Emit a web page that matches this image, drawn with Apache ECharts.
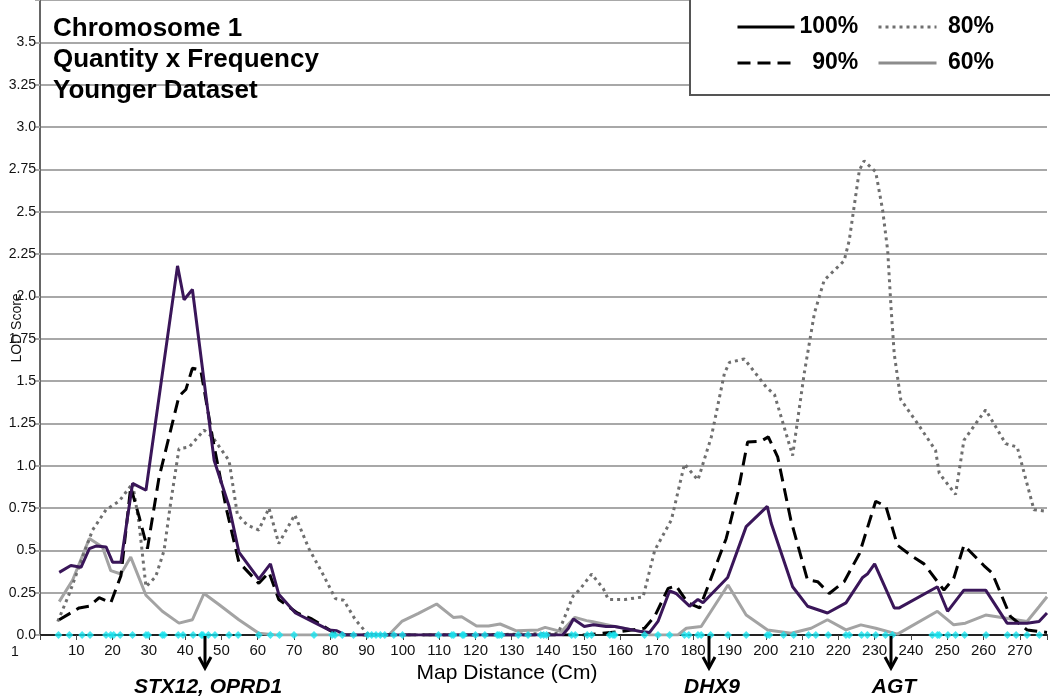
<!DOCTYPE html>
<html><head><meta charset="utf-8">
<script src="https://cdn.jsdelivr.net/npm/echarts@6/dist/echarts.min.js"></script>
<style>html,body{margin:0;padding:0;background:#fff}#c{width:1050px;height:696px}</style>
</head><body><div id="c"></div>
<script>
const titleLines = ['Chromosome 1', 'Quantity x Frequency', 'Younger Dataset'];
const seriesNames = ['100%', '90%', '80%', '60%'];
const xAxisTitle = 'Map Distance (Cm)';
const yAxisTitle = 'LOD Score';
const cornerLabel = '1';

const lod100 = [[5.3,0.37],[8.5,0.41],[11.3,0.40],[13.6,0.51],[15.4,0.525],[18.2,0.52],[20,0.43],[22.3,0.43],[25.5,0.895],[29.2,0.855],[37.9,2.18],[39.7,1.98],[42.0,2.04],[48.0,1.03],[52.1,0.76],[54.8,0.49],[60.3,0.33],[63.5,0.42],[65.8,0.24],[70.4,0.13],[75,0.08],[79.6,0.03],[81.8,0.025],[84.2,0],[100,0],[120,0],[144,0],[145.6,0.04],[147.0,0.095],[150,0.05],[152.5,0.06],[156,0.05],[158.4,0.05],[165.7,0.02],[168,0.015],[170.3,0.08],[173.5,0.26],[175.3,0.245],[179.0,0.17],[181.3,0.21],[182.7,0.19],[189.5,0.34],[194.6,0.64],[200.4,0.76],[201.5,0.66],[207.4,0.285],[211.5,0.17],[217,0.13],[222.1,0.19],[226.7,0.34],[228,0.36],[230,0.42],[235.4,0.16],[236.8,0.16],[247.3,0.285],[250.1,0.14],[254.6,0.265],[260.6,0.265],[266.5,0.07],[272,0.07],[275.3,0.08],[277.5,0.13]];
const lod90 = [[5.3,0.09],[10.8,0.16],[13.5,0.17],[16.3,0.22],[19.5,0.19],[22.3,0.35],[25.0,0.875],[27.3,0.70],[29.6,0.51],[32.8,0.93],[38.3,1.41],[40.2,1.45],[42.0,1.575],[44.3,1.565],[47.5,1.17],[51.2,0.76],[54.8,0.43],[60.3,0.305],[63.1,0.37],[65.8,0.21],[70.9,0.13],[74.9,0.095],[80.5,0.02],[84,0],[110,0],[150,0],[155,0.01],[160,0.02],[166.6,0.04],[169.4,0.11],[173.1,0.275],[175.3,0.29],[178.5,0.19],[181.8,0.16],[189.1,0.57],[192.3,0.84],[195,1.14],[198.7,1.145],[200.7,1.17],[203.3,1.05],[206.9,0.68],[211.5,0.325],[214.3,0.315],[217.5,0.245],[221.6,0.315],[225.8,0.48],[230.3,0.79],[233.1,0.76],[236.3,0.53],[240,0.47],[243.6,0.42],[249.1,0.265],[251.8,0.335],[254.6,0.53],[260.1,0.41],[262.4,0.365],[267.4,0.11],[272,0.03],[277.5,0.015]];
const lod80 = [[4.9,0.08],[8.1,0.245],[11.7,0.46],[14.5,0.62],[18.2,0.74],[21.8,0.79],[25.5,0.895],[27.3,0.66],[29.2,0.285],[31.9,0.345],[34.2,0.50],[36.0,0.78],[38.3,1.10],[41.1,1.11],[45.2,1.21],[47.5,1.17],[52.1,1.03],[54.4,0.71],[57.1,0.65],[60.3,0.62],[63.1,0.75],[65.8,0.54],[70.2,0.71],[74.1,0.51],[77.7,0.37],[81.4,0.215],[83.7,0.205],[86.9,0.09],[90.1,0.01],[92,0],[120,0],[142.8,0.01],[146.9,0.23],[148.8,0.27],[152,0.36],[155.2,0.275],[156.6,0.21],[161.2,0.21],[166.2,0.225],[169.4,0.50],[174,0.68],[177.6,1.01],[181.3,0.915],[185,1.17],[188.6,1.545],[190,1.61],[194.1,1.63],[200.1,1.465],[202.4,1.42],[207.4,1.06],[210.6,1.545],[213.4,1.90],[216.1,2.095],[221.6,2.21],[223,2.33],[225.8,2.745],[227.1,2.80],[230.3,2.735],[232.2,2.51],[233.6,2.27],[234.5,1.94],[235.4,1.66],[237.2,1.39],[241.8,1.25],[246.8,1.09],[247.8,0.955],[252.3,0.83],[254.6,1.15],[260.6,1.33],[266.1,1.13],[269.3,1.11],[273.9,0.74],[277.5,0.73]];
const lod60 = [[5.3,0.197],[9.0,0.325],[13.6,0.57],[17.2,0.52],[19.5,0.38],[22.3,0.36],[25,0.46],[29.2,0.235],[33.7,0.14],[38.3,0.07],[42.0,0.09],[45.2,0.245],[49.3,0.18],[54.8,0.09],[60.3,0.01],[65,0],[80,0],[96.1,0],[99.7,0.08],[104.3,0.128],[109.3,0.183],[113.9,0.104],[116.2,0.108],[120.3,0.053],[123.6,0.053],[126.8,0.065],[131.3,0.025],[137.3,0.03],[139.2,0.045],[143.7,0.02],[147.4,0.104],[150.6,0.085],[152,0.08],[158.4,0.05],[165.7,0.02],[168,0],[175.8,0],[178.1,0.04],[182.2,0.05],[189.6,0.295],[194.6,0.118],[200.5,0.03],[207,0.01],[212.5,0.04],[217,0.09],[222.1,0.03],[226.2,0.06],[230.3,0.04],[236.3,0.005],[247.3,0.14],[251.8,0.06],[255,0.07],[260.6,0.118],[272,0.08],[275.3,0.167],[277.5,0.226]];

const markerPositions = [5.1,8.1,11.6,13.8,18.2,19.5,20.3,22.1,25.5,29.2,29.8,33.7,34.2,38.1,39.4,42.2,44.5,44.9,46.4,48.2,52.1,54.6,60.3,63.5,66.0,70.0,75.5,80.5,81.3,83.3,86.4,90.3,91.4,92.6,93.8,95.0,97.5,99.9,109.8,113.5,114.0,116.4,116.8,120.0,122.6,126.0,126.5,127.2,131.8,134.5,138.0,138.8,139.6,146.5,147.5,150.8,152.0,157.0,157.9,158.4,166.6,170.3,173.5,177.6,178.8,181.3,182.2,184.8,189.6,194.6,200.4,201.0,204.9,207.7,211.8,213.8,217.2,222.1,223.0,226.4,228.0,230.3,233.0,234.9,245.9,247.3,247.8,250.2,252.3,254.8,260.7,266.6,269.0,272.0,275.4];

const geneNames = ['STX12, OPRD1', 'DHX9', 'AGT'];
const genePositions = [45.5, 184.3, 234.6];

const FONT = '"Liberation Sans", Arial, sans-serif';
const chart = echarts.init(document.getElementById('c'), null, {renderer: 'canvas'});

const lineDefs = [
  {name: seriesNames[3], data: lod60, color: '#a3a3a3', type: 'solid'},
  {name: seriesNames[2], data: lod80, color: '#6f6f6f', type: [3, 4]},
  {name: seriesNames[1], data: lod90, color: '#000000', type: [13, 7]},
  {name: seriesNames[0], data: lod100, color: '#3a1659', type: 'solid'}
];

const legendText = {fontSize: 23, fontWeight: 'bold', color: '#000', fontFamily: FONT, lineHeight: 26};
const hiddenSymbol = {color: 'rgba(0,0,0,0)', borderWidth: 0, opacity: 0};

chart.setOption({
  animation: false,
  backgroundColor: '#fff',
  title: {
    text: titleLines.join('\n'), left: 53, top: 13, padding: 0,
    textStyle: {fontSize: 26, fontWeight: 'bold', color: '#000', fontFamily: FONT, lineHeight: 31}
  },
  legend: [
    {data: [{name: seriesNames[0], lineStyle: {color: '#000', width: 3}}, {name: seriesNames[1], lineStyle: {width: 3}}],
     orient: 'vertical', left: 736, top: 14, padding: 0, itemWidth: 57, itemHeight: 14, itemGap: 10,
     itemStyle: hiddenSymbol,
     selectedMode: false, textStyle: legendText, formatter: n => n === seriesNames[1] ? '  ' + n : n},
    {data: [{name: seriesNames[2], lineStyle: {width: 3}}, {name: seriesNames[3], lineStyle: {color: '#8c8c8c', width: 3}}],
     orient: 'vertical', left: 877, top: 14, padding: 0, itemWidth: 58, itemHeight: 14, itemGap: 10,
     itemStyle: hiddenSymbol,
     selectedMode: false, textStyle: legendText, formatter: n => ' ' + n}
  ],
  grid: {left: 40, right: 0, top: 0, bottom: 61, containLabel: false},
  xAxis: {
    type: 'value', min: 0, max: 277.5, interval: 10,
    axisLine: {show: true, lineStyle: {color: '#222', width: 2}},
    axisTick: {show: true, length: 5, lineStyle: {color: '#444'}},
    axisLabel: {fontSize: 15, color: '#111', fontFamily: FONT, margin: 8,
      formatter: v => (v > 0 && Math.abs(v % 10) < 1e-6) ? String(v) : ''},
    splitLine: {show: false}
  },
  yAxis: {
    type: 'value', min: 0, max: 3.75, interval: 0.25,
    axisLine: {show: true, lineStyle: {color: '#666', width: 2}},
    axisTick: {show: true, length: 5, lineStyle: {color: '#a8a8a8', width: 2}},
    axisLabel: {fontSize: 14, color: '#111', fontFamily: FONT, margin: 4,
      formatter: v => v >= 3.7 ? '' : (Math.round(v * 100) % 50 === 0 ? v.toFixed(1) : v.toFixed(2))},
    splitLine: {show: true, lineStyle: {color: '#a8a8a8', width: 2}}
  },
  series: lineDefs.map(d => ({
    name: d.name, type: 'line', data: d.data, symbol: 'none', showSymbol: false,
    lineStyle: {color: d.color, width: 3, type: d.type, cap: 'butt'},
    itemStyle: {color: d.color}, z: 3
  })).concat([{
    name: 'markers', type: 'scatter', data: markerPositions.map(p => [p, 0]),
    symbol: 'diamond', symbolSize: 8, itemStyle: {color: '#19e3ef'}, clip: false, z: 6, silent: true
  }])
});

function drawGraphics() {
  const g = [];
  g.push({type: 'rect', shape: {x: 690, y: -3, width: 363, height: 98},
    style: {fill: '#fff', stroke: '#555', lineWidth: 2}, z: 3});
  genePositions.forEach((p, i) => {
    const px = Math.round(chart.convertToPixel({xAxisIndex: 0}, p));
    g.push({type: 'line', shape: {x1: px, y1: 636, x2: px, y2: 667}, style: {stroke: '#000', lineWidth: 3}, z: 10});
    g.push({type: 'polyline', shape: {points: [[px - 6, 657], [px, 668], [px + 6, 657]]}, style: {stroke: '#000', lineWidth: 3, fill: null}, z: 10});
    g.push({type: 'text', x: px + 3, y: 687, style: {text: geneNames[i], fontSize: 21, fontWeight: 'bold', fontStyle: 'italic',
      fill: '#000', fontFamily: FONT, align: 'center', verticalAlign: 'middle'}, z: 10});
  });
  g.push({type: 'text', x: 507, y: 673, style: {text: xAxisTitle, fontSize: 21, fill: '#000', fontFamily: FONT, align: 'center', verticalAlign: 'middle'}, z: 10});
  g.push({type: 'text', x: 17, y: 328, rotation: Math.PI / 2, style: {text: yAxisTitle, fontSize: 14, fill: '#111', fontFamily: FONT, align: 'center', verticalAlign: 'middle'}, z: 10});
  g.push({type: 'text', x: 15, y: 652, style: {text: cornerLabel, fontSize: 14, fill: '#111', fontFamily: FONT, align: 'center', verticalAlign: 'middle'}, z: 10});
  chart.setOption({graphic: g});
}
drawGraphics();
</script></body></html>
